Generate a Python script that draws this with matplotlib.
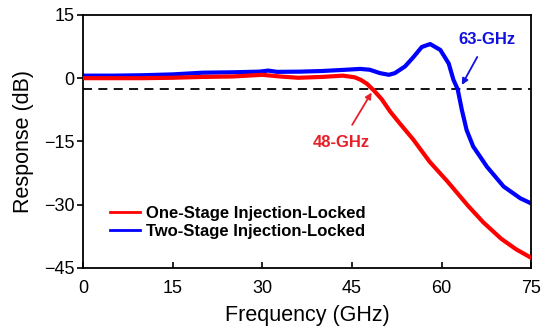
import matplotlib.pyplot as plt

plt.rcParams['font.family'] = ['Liberation Sans', 'DejaVu Sans']

# Data
freq_one = [0, 5, 10, 15, 20, 25, 30, 33, 36, 40, 43.5, 45.5, 46.5, 47.5, 48.6,
            50, 51.4, 53, 55.3, 58, 61, 64.4, 67, 70, 72.5, 75]
resp_one = [0.0, 0.0, 0.0, 0.1, 0.3, 0.4, 0.8, 0.4, 0.1, 0.3, 0.6, 0.2, -0.4,
            -1.3, -2.8, -5.0, -7.9, -10.7, -14.6, -19.8, -24.5, -30.2, -34.2,
            -38.1, -40.6, -42.6]

freq_two = [0, 5, 10, 15, 20, 25, 29.5, 31, 32.5, 36.3, 40, 44, 46.4, 48, 49.7,
            51.2, 52.2, 53.9, 55.3, 56.7, 58.1, 59.8, 61.2, 62, 62.7, 63.4, 64.2,
            65.3, 67.6, 70.4, 73.2, 75]
resp_two = [0.6, 0.6, 0.7, 0.9, 1.3, 1.4, 1.55, 1.8, 1.5, 1.55, 1.7, 2.0, 2.2,
            2.0, 1.2, 0.8, 1.2, 2.8, 5.0, 7.4, 8.1, 6.7, 3.5, -0.4, -2.6, -7.5,
            -12.3, -16.2, -21.0, -25.7, -28.5, -29.7]

labels = ['One-Stage Injection-Locked', 'Two-Stage Injection-Locked']
x_ticks = [0, 15, 30, 45, 60, 75]
y_ticks = [-45, -30, -15, 0, 15]
cutoff_db = -2.6

fig = plt.figure(figsize=(5.42, 3.32), dpi=100)
ax = fig.add_axes([0.153, 0.193, 0.827, 0.762])

ax.axhline(cutoff_db, color='black', lw=1.3, ls=(0, (5, 3.5)), zorder=1)
ax.plot(freq_one, resp_one, color='#ff0000', lw=3, solid_capstyle='round', zorder=3)
ax.plot(freq_two, resp_two, color='#0000ff', lw=3, solid_capstyle='round', zorder=2)

# annotations
ax.annotate('48-GHz', xy=(48.3, -3.4), xytext=(43.3, -15.2),
            color='#e8202a', fontsize=12, fontweight='bold', ha='center', va='center',
            arrowprops=dict(arrowstyle='-|>', color='#e8202a', lw=1.3,
                            mutation_scale=9, shrinkA=6, shrinkB=0))
ax.annotate('63-GHz', xy=(63.4, -1.6), xytext=(67.6, 9.2),
            color='#1010e0', fontsize=12, fontweight='bold', ha='center', va='center',
            arrowprops=dict(arrowstyle='-|>', color='#1010e0', lw=1.3,
                            mutation_scale=9, shrinkA=6, shrinkB=0))

# legend with thin handles
h1 = plt.Line2D([], [], color='#ff0000', lw=2)
h2 = plt.Line2D([], [], color='#0000ff', lw=2)
ax.legend([h1, h2], labels, loc='center left', bbox_to_anchor=(0.06, 0.18),
          frameon=False, prop={'weight': 'bold', 'size': 12},
          borderaxespad=0, borderpad=0,
          handlelength=1.8, handletextpad=0.4, labelspacing=0.15)

ax.set_xlim(0, 75)
ax.set_ylim(-45, 15)
ax.set_xticks(x_ticks)
ax.set_yticks(y_ticks)
ax.tick_params(axis='x', direction='in', length=4, width=1.2, labelsize=13, pad=8.5)
ax.tick_params(axis='y', direction='out', length=4, width=1.2, labelsize=13, pad=2)
for s in ax.spines.values():
    s.set_linewidth(1.3)

ax.set_xlabel('Frequency (GHz)', fontsize=15.5, labelpad=6)
ax.set_ylabel('Response (dB)', fontsize=15.5, labelpad=7)

fig.savefig('out.png', dpi=100)
